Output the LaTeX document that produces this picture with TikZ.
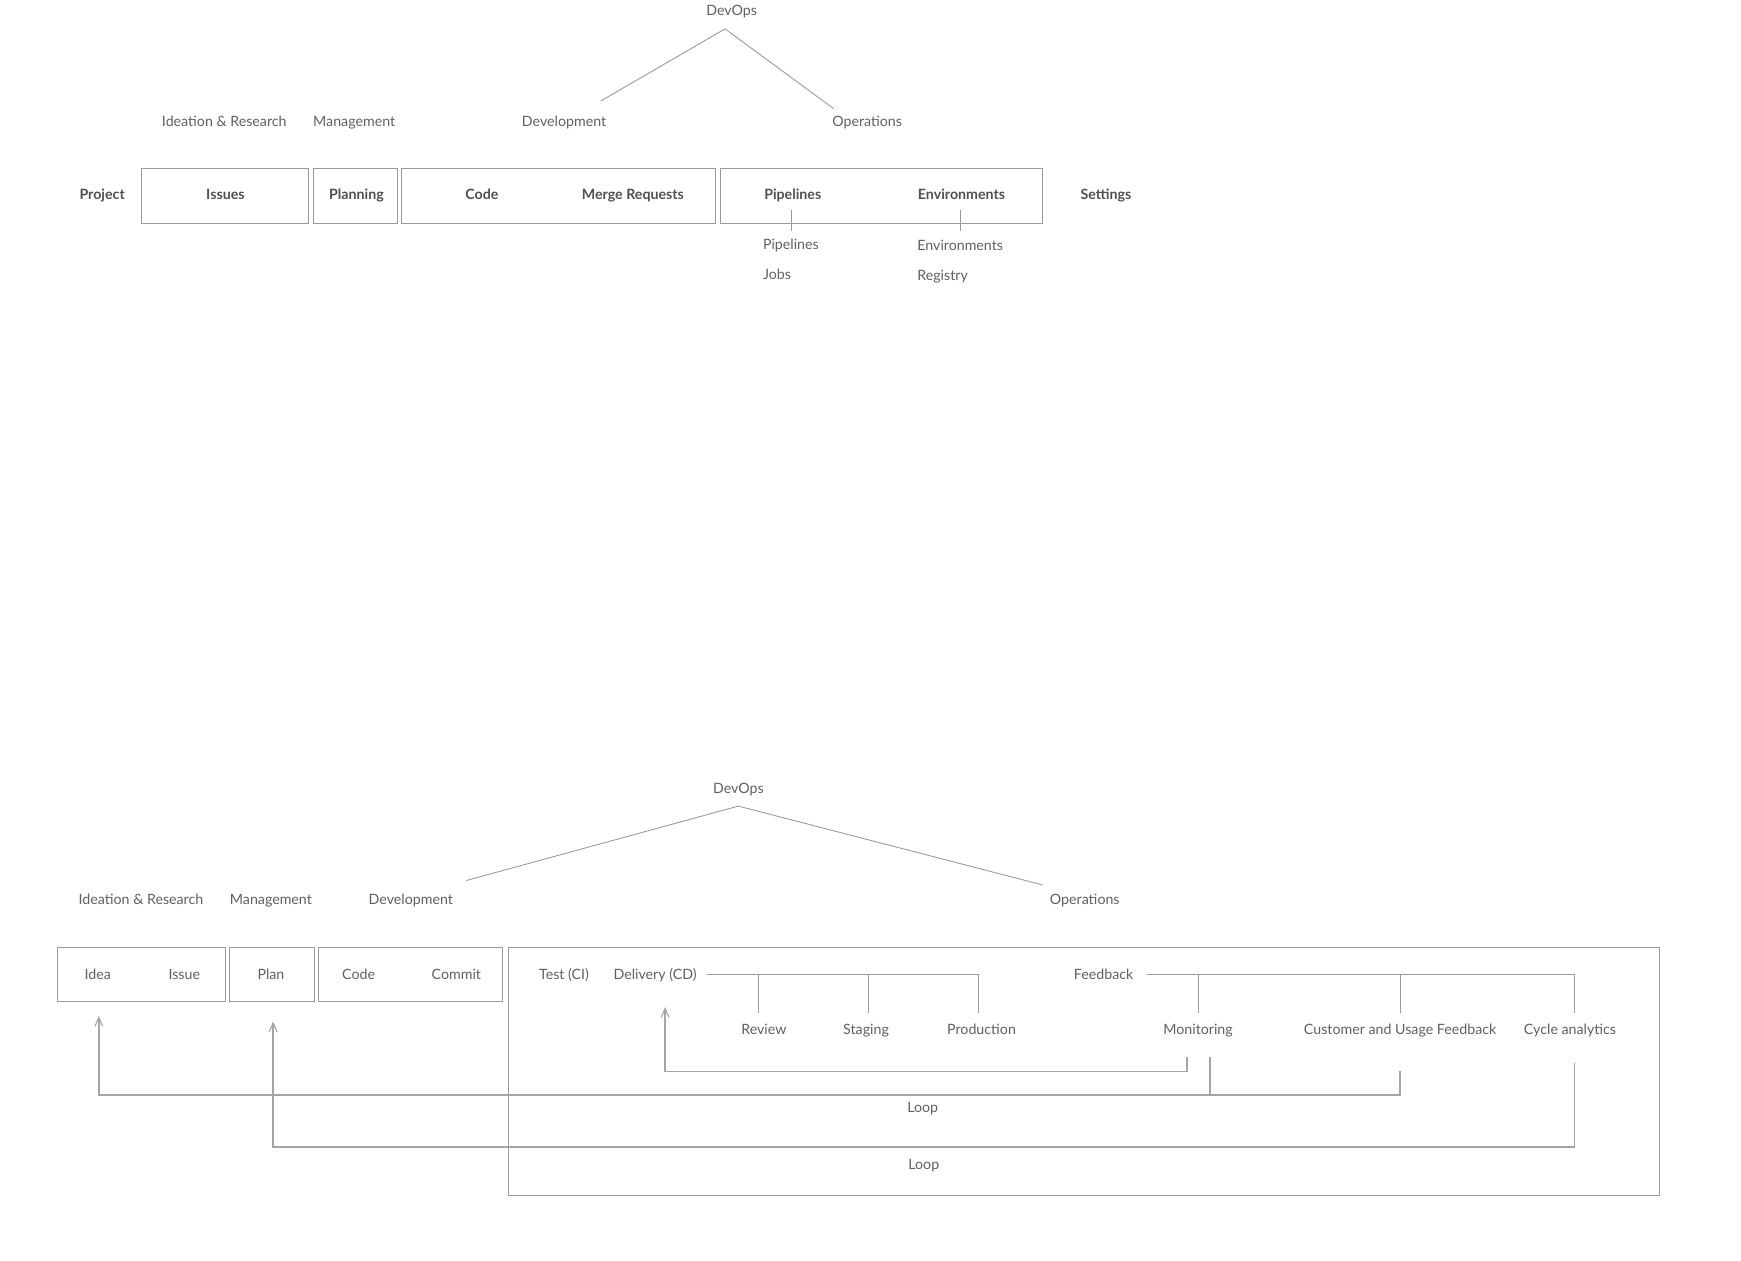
\documentclass[tikz,border=0pt]{standalone}
\usepackage{fontspec}
\setmainfont{Lato}
\usetikzlibrary{arrows.meta}
\definecolor{txt}{HTML}{606060}
\definecolor{btxt}{HTML}{505050}
\definecolor{ln}{HTML}{9A9A9A}
\definecolor{aln}{HTML}{A5A5A5}
\tikzset{
  lbl/.style={inner sep=0pt, text height=12pt, text depth=2pt, text=txt, font=\fontsize{12.8}{14}\selectfont},
  blbl/.style={inner sep=0pt, text height=12pt, text depth=2pt, text=btxt, font=\fontsize{12.8}{14}\selectfont\bfseries},
  frame/.style={draw=ln, line width=0.9pt, inner sep=0pt},
  conn/.style={draw=ln, line width=0.8pt},
  loopline/.style={draw=aln, line width=1.5pt},
  looparrow/.style={draw=aln, line width=1.5pt, -{Straight Barb[length=8pt,width=7pt,line width=1pt]}},
}
\begin{document}
\begin{tikzpicture}[x=1pt,y=-1pt]
\useasboundingbox (0,0) rectangle (1568,1135);
% ---------- top ----------
\node[lbl] (tdevops) at (659,9) {DevOps};
\coordinate (tapex) at (653,26);
\coordinate (tdevend) at (541,91);
\coordinate (topsend) at (751,98);
\draw[conn] (tdevend) -- (tapex) -- (topsend);
\node[lbl] (tideation) at (202,109) {Ideation \& Research};
\node[lbl] (tmgmt) at (319,109) {Management};
\node[lbl] (tdev) at (508,109) {Development};
\node[lbl] (tops) at (781,109) {Operations};

\node[frame, minimum width=151pt, minimum height=49pt] (bIssues) at (202.5,176.5) {};
\node[frame, minimum width=76pt, minimum height=49pt] (bPlanning) at (320,176.5) {};
\node[frame, minimum width=282pt, minimum height=49pt] (bCode) at (503,176.5) {};
\node[frame, minimum width=290pt, minimum height=49pt] (bPipe) at (794,176.5) {};

\node[blbl] (tproject) at (92,175) {Project};
\node[blbl] (tissues) at (203,175) {Issues};
\node[blbl] (tplanning) at (321,175) {Planning};
\node[blbl] (tcode) at (434,175) {Code};
\node[blbl] (tmr) at (570,175) {Merge Requests};
\node[blbl] (tpipelines) at (714,175) {Pipelines};
\node[blbl] (tenvs) at (866,175) {Environments};
\node[blbl] (tsettings) at (996,175) {Settings};

\node[lbl, anchor=west] (tsubpipe) at (687,220) {Pipelines};
\node[lbl, anchor=west] (tjobs) at (687,247) {Jobs};
\node[lbl, anchor=west] (tsubenv) at (826,221) {Environments};
\node[lbl, anchor=west] (treg) at (826,248) {Registry};
\coordinate (pt1) at (713,189); \coordinate (pt2) at (713,208);
\coordinate (et1) at (865,189); \coordinate (et2) at (865,208);
\draw[conn] (pt1) -- (pt2);
\draw[conn] (et1) -- (et2);

% ---------- bottom ----------
\node[lbl] (bdevops) at (665,710) {DevOps};
\coordinate (bapex) at (665,726);
\coordinate (bdevend) at (420,793);
\coordinate (bopsend) at (939,797);
\draw[conn] (bdevend) -- (bapex) -- (bopsend);
\node[lbl] (bideation) at (127,810) {Ideation \& Research};
\node[lbl] (bmgmt) at (244,810) {Management};
\node[lbl] (bdev) at (370,810) {Development};
\node[lbl] (bops) at (977,810) {Operations};

\node[frame, minimum width=151pt, minimum height=49pt] (bxIdea) at (127.5,877.5) {};
\node[frame, minimum width=76pt, minimum height=49pt] (bxPlan) at (245,877.5) {};
\node[frame, minimum width=166pt, minimum height=49pt] (bxCode) at (370,877.5) {};
\node[frame, minimum width=1037pt, minimum height=224pt] (bxOps) at (976.5,965) {};

\node[lbl] (bidea) at (88,877) {Idea};
\node[lbl] (bissue) at (166,877) {Issue};
\node[lbl] (bplan) at (244,877) {Plan};
\node[lbl] (bcode) at (323,877) {Code};
\node[lbl] (bcommit) at (411,877) {Commit};
\node[lbl] (btest) at (508,877) {Test (CI)};
\node[lbl] (bdelivery) at (590,877) {Delivery (CD)};
\node[lbl] (bfeedback) at (994,877) {Feedback};

\node[lbl] (breview) at (688,927) {Review};
\node[lbl] (bstaging) at (780,927) {Staging};
\node[lbl] (bprod) at (884,927) {Production};
\node[lbl] (bmon) at (1079,927) {Monitoring};
\node[lbl] (bcust) at (1261,927) {Customer and Usage Feedback};
\node[lbl] (bcycle) at (1414,927) {Cycle analytics};

% delivery tree
\coordinate (d0) at (637,878);
\coordinate (d1) at (683,878); \coordinate (d1b) at (683,912);
\coordinate (d2) at (782,878); \coordinate (d2b) at (782,912);
\coordinate (d3) at (881,878); \coordinate (d3b) at (881,912);
\draw[conn] (d0) -- (d3) -- (d3b);
\draw[conn] (d1) -- (d1b);
\draw[conn] (d2) -- (d2b);
% feedback tree
\coordinate (f0) at (1033,878);
\coordinate (f1) at (1079,878); \coordinate (f1b) at (1079,912);
\coordinate (f2) at (1261,878); \coordinate (f2b) at (1261,912);
\coordinate (f3) at (1418,878); \coordinate (f3b) at (1418,912);
\draw[conn] (f0) -- (f3) -- (f3b);
\draw[conn] (f1) -- (f1b);
\draw[conn] (f2) -- (f2b);

% loops
\coordinate (l1s) at (1069,952);
\coordinate (l1e) at (599,907);
\draw[looparrow] (l1s) |- (599,965) -- (l1e);

\coordinate (l2s) at (1090,952);
\coordinate (l2e) at (89,915);
\draw[looparrow] (l2s) |- (89,986) -- (l2e);
\coordinate (l2b) at (1261,965);
\draw[loopline] (l2b) |- (1090,986);
\node[lbl] (loop1) at (831,997) {Loop};

\coordinate (l3s) at (1418,957);
\coordinate (l3e) at (246,920);
\draw[looparrow] (l3s) |- (246,1033) -- (l3e);
\node[lbl] (loop2) at (832,1048) {Loop};
\end{tikzpicture}
\end{document}
